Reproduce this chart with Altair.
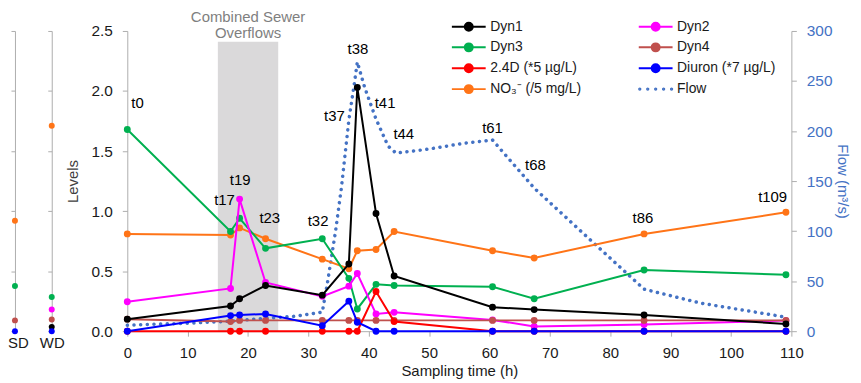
import json
import altair as alt
import pandas as pd

# ---------------- data ----------------
t_names = ["t0", "t17", "t19", "t23", "t32", "t37", "t38", "t41", "t44", "t61", "t68", "t86", "t109"]
times = [0, 17.1, 18.6, 22.9, 32.3, 36.7, 38.1, 41.2, 44.2, 60.5, 67.4, 85.6, 109.1]

dyn1 = [0.10, 0.21, 0.27, 0.38, 0.30, 0.56, 2.03, 0.98, 0.46, 0.20, 0.18, 0.135, 0.06]
dyn2 = [0.245, 0.356, 1.10, 0.406, 0.29, 0.375, 0.48, 0.143, 0.157, 0.094, 0.04, 0.055, 0.088]
dyn3 = [1.68, 0.83, 0.94, 0.69, 0.77, 0.44, 0.185, 0.39, 0.38, 0.37, 0.27, 0.51, 0.47]
dyn4 = [0.10, 0.08, 0.09, 0.09, 0.09, 0.09, 0.09, 0.09, 0.09, 0.09, 0.09, 0.09, 0.09]
d24 = [0, 0, 0, 0, 0, 0, 0, 0.33, 0.08, 0, 0, 0, 0]
diuron = [0, 0.13, 0.135, 0.143, 0.046, 0.25, 0.075, 0, 0, 0, 0, 0, 0]
no3 = [0.81, 0.80, 0.86, 0.77, 0.60, 0.52, 0.67, 0.68, 0.83, 0.67, 0.61, 0.81, 0.99]

flow_t = [0, 10, 17.1, 23, 28, 32.3, 33.2, 34.5, 35.5, 36.7, 37.6, 38.1, 39.3, 41.2,
          43.2, 44.5, 50, 56, 60.5, 67.4, 78, 85.6, 95, 109.1]
flow_v = [6, 8, 10, 13, 15, 19, 50, 100, 145, 211, 247, 269, 244, 212,
          185, 178, 182, 188, 191, 143, 84, 42, 28, 14]

# annotation label positions (data coords)
lab_x = [1.7, 16.1, 18.7, 23.6, 31.6, 34.3, 38.2, 42.7, 45.8, 60.5, 67.6, 85.4, 106.9]
lab_y = [1.90, 1.09, 1.26, 0.945, 0.92, 1.79, 2.35, 1.90, 1.64, 1.69, 1.38, 0.945, 1.12]

# combined sewer overflow window
cso_start, cso_end, cso_top = 15, 25, 2.41

# side panels (SD, WD)
sd_series = ["NO₃⁻ (/5 mg/L)", "Dyn3", "Dyn4", "Diuron (*7 µg/L)"]
sd_values = [0.92, 0.376, 0.09, 0.0]
wd_series = ["NO₃⁻ (/5 mg/L)", "Dyn3", "Dyn2", "Dyn4", "Dyn1", "Diuron (*7 µg/L)"]
wd_values = [1.71, 0.285, 0.18, 0.097, 0.036, 0.0]

# legend order (column-major, 2 columns of 4)
series_names = ["Dyn1", "Dyn3", "2.4D (*5 µg/L)", "NO₃⁻ (/5 mg/L)",
                "Dyn2", "Dyn4", "Diuron (*7 µg/L)", "Flow"]
series_colors = ["#000000", "#00B050", "#FF0000", "#FF7417",
                 "#FF00FF", "#C0504D", "#0000FF", "#4472C4"]

values_by_series = {
    "Dyn1": dyn1, "Dyn2": dyn2, "Dyn3": dyn3, "Dyn4": dyn4,
    "2.4D (*5 µg/L)": d24, "Diuron (*7 µg/L)": diuron, "NO₃⁻ (/5 mg/L)": no3,
}
draw_order = ["NO₃⁻ (/5 mg/L)", "Dyn3", "Dyn2", "Dyn4", "2.4D (*5 µg/L)", "Dyn1", "Diuron (*7 µg/L)"]

rows = []
for s in draw_order:
    for t, v in zip(times, values_by_series[s]):
        rows.append({"series": s, "t": t, "v": v})
df = pd.DataFrame(rows)
flow_df = pd.DataFrame({"t": flow_t, "flow": flow_v})
lab_df = pd.DataFrame({"name": t_names, "lx": lab_x, "ly": lab_y})
cso_df = pd.DataFrame({"x1": [cso_start], "x2": [cso_end], "y1": [0], "y2": [cso_top]})
cso_txt_df = pd.DataFrame({"x": [(cso_start + cso_end) / 2], "y": [2.62],
                           "txt": ["Combined Sewer\nOverflows"]})

# ---------------- styling ----------------
AX = "#ADADAD"
TXT = "#1a1a1a"
BLUE = "#4472C4"
W, H = 668, 302

color_scale = alt.Scale(domain=series_names, range=series_colors)

x_scale = alt.Scale(domain=[0, 110], nice=False, zero=False)
x_axis = alt.Axis(values=list(range(0, 111, 10)), title="Sampling time (h)", grid=False,
                  tickSize=5, labelPadding=9, labelFlush=False, labelFontSize=15,
                  titleFontSize=15, titlePadding=4, domainColor=AX, tickColor=AX,
                  labelColor=TXT, titleColor=TXT)
lvl_scale = alt.Scale(domain=[0, 2.5], nice=False)
lvl_axis = alt.Axis(values=[0, 0.5, 1, 1.5, 2, 2.5], format=".1f", title="Levels", grid=False,
                    tickSize=5, labelPadding=10, labelFontSize=15.5, titleFontSize=15,
                    titlePadding=11, domainColor=AX, tickColor=AX, labelColor=TXT,
                    titleColor="#404040")

names_js = json.dumps(series_names, ensure_ascii=False)
colors_js = json.dumps(series_colors)
col_expr = f"{colors_js}[indexof({names_js}, datum.value)]"


def circ(cx, r):
    return f"M{cx - r:.3f},0A{r},{r},0,1,1,{cx + r:.3f},0A{r},{r},0,1,1,{cx - r:.3f},0Z"


dot_path = "M-2,0L2,0" + circ(0, 0.47)
flow_path = "".join(circ(c, 0.08) for c in [-1.88, -0.94, 0, 0.94, 1.88])

legend = alt.Legend(
    title=None, orient="none", legendX=334, legendY=-14, columns=2,
    columnPadding=53, rowPadding=3, labelOffset=12, labelFontSize=14, labelColor=TXT,
    symbolSize=289, padding=0, symbolStrokeWidth=2,
    symbolType={"expr": f"datum.value === 'Flow' ? '{flow_path}' : '{dot_path}'"},
    symbolStrokeColor={"expr": col_expr},
    symbolOpacity=1,
)

X = alt.X("t:Q", scale=x_scale, axis=x_axis)
Y = alt.Y("v:Q", scale=lvl_scale, axis=lvl_axis)
C = alt.Color("series:N", scale=color_scale, legend=legend)

# ---------------- main chart ----------------
rect = alt.Chart(cso_df).mark_rect(color="#DAD9DA").encode(
    x=alt.X("x1:Q", scale=x_scale, axis=x_axis), x2="x2:Q",
    y=alt.Y("y1:Q", scale=lvl_scale, axis=None), y2="y2:Q",
)

flow_line = alt.Chart(flow_df).mark_line(
    color=BLUE, strokeWidth=3.5, strokeDash=[0.1, 6.6], strokeCap="round"
).encode(
    x=X,
    y=alt.Y("flow:Q", scale=alt.Scale(domain=[0, 300], nice=False),
            axis=alt.Axis(orient="right", values=list(range(0, 301, 50)), title="Flow (m³/s)",
                          grid=False, tickSize=5, labelPadding=10, titlePadding=3,
                          labelFontSize=15.5, titleFontSize=15, labelColor=BLUE,
                          titleColor=BLUE, domainColor=AX, tickColor=AX)),
)

level_layers = []
for s in draw_order:
    base = alt.Chart(df).transform_filter(alt.datum.series == s)
    ln = base.mark_line(strokeWidth=2).encode(x=X, y=Y, color=C)
    pt = base.mark_circle(size=48, opacity=1).encode(x=X, y=Y, color=C)
    level_layers += [ln, pt]

cso_text = alt.Chart(cso_txt_df).mark_text(
    fontSize=15, color="#7F7F7F", lineBreak="\n", lineHeight=17, baseline="middle"
).encode(x=alt.X("x:Q", scale=x_scale, axis=x_axis),
         y=alt.Y("y:Q", scale=lvl_scale, axis=lvl_axis), text="txt:N")
level_layers.append(cso_text)

labels = alt.Chart(lab_df).mark_text(fontSize=15, color="#000000", baseline="middle").encode(
    x=alt.X("lx:Q", scale=x_scale, axis=x_axis),
    y=alt.Y("ly:Q", scale=lvl_scale, axis=lvl_axis), text="name:N",
)
level_layers.append(labels)

levels = alt.layer(*level_layers)
main = alt.layer(rect, flow_line, levels).resolve_scale(y="independent").properties(
    width=W, height=H)


# ---------------- side panels ----------------
def side(name, ser, vals, w, loff):
    d = pd.DataFrame({"pos": [0] * len(ser), "series": ser, "value": vals})
    return alt.Chart(d).mark_circle(size=36, opacity=1).encode(
        x=alt.X("pos:Q", scale=alt.Scale(domain=[0, 1], nice=False),
                axis=alt.Axis(values=[0], labelExpr=f"'{name}'", ticks=False, domain=False,
                              grid=False, title=None, labelFlush=False, labelFontSize=15,
                              labelPadding=4, labelOffset=loff, labelColor=TXT)),
        y=alt.Y("value:Q", scale=lvl_scale,
                axis=alt.Axis(values=[0, 0.5, 1, 1.5, 2, 2.5], labels=False, tickSize=4,
                              title=None, grid=False, domainColor=AX, tickColor=AX)),
        color=alt.Color("series:N", scale=color_scale, legend=None),
    ).properties(width=w, height=H)


sd = side("SD", sd_series, sd_values, 29, 3)
wd = side("WD", wd_series, wd_values, 68, 0)

chart = alt.hconcat(sd, wd, main, spacing=8, bounds="flush").resolve_scale(
    color="independent"
).properties(
    padding={"left": -1, "top": 0, "right": 3, "bottom": 0}
).configure(font="Liberation Sans").configure_view(stroke=None).configure_axis(
    titleFontWeight="normal"
)

chart.save("out.html", embed_options={"renderer": "svg", "actions": False})
